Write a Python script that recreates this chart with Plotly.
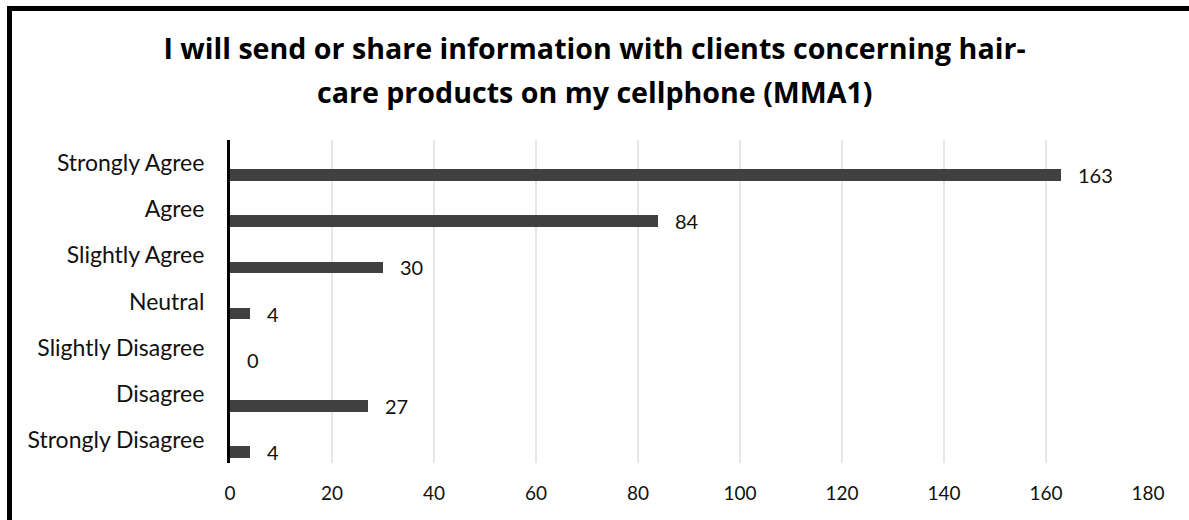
import plotly.graph_objects as go

categories = ["Strongly Agree", "Agree", "Slightly Agree", "Neutral",
              "Slightly Disagree", "Disagree", "Strongly Disagree"]
values = [163, 84, 30, 4, 0, 27, 4]
x_ticks = [0, 20, 40, 60, 80, 100, 120, 140, 160, 180]
title_line1 = "I will send or share information with clients concerning hair-"
title_line2 = "care products on my cellphone (MMA1)"

W, H = 1189, 520
ML, MR, MT, MB = 230, 41, 140, 57
PW, PH = W - ML - MR, H - MT - MB
FONT = "Lato"
TFONT = "Open Sans"

fig = go.Figure()
fig.add_trace(go.Bar(
    x=values, y=categories, orientation="h",
    width=0.25, offset=0.135,
    marker=dict(color="#404040", line=dict(width=0)),
    hoverinfo="x+y",
))

for v, c in zip(values, categories):
    fig.add_annotation(x=v, y=c, text=str(v), showarrow=False,
                       xanchor="left", yanchor="middle", xshift=15, yshift=-12,
                       font=dict(family=FONT, size=20, color="#111111"))


def px_x(p):
    return (p - ML) / PW


def px_y(p):
    return (H - MB - p) / PH


# title (two lines, wide line spacing)
fig.update_layout(title=dict(text="<b>" + title_line1 + "</b>", x=0.5, xanchor="center",
                             xref="container", yref="container",
                             y=1 - 49 / H, yanchor="middle",
                             font=dict(family=TFONT, size=28.6, color="#000000")))
fig.add_annotation(text="<b>" + title_line2 + "</b>", xref="paper", yref="paper",
                   x=px_x(W / 2), y=px_y(91),
                   showarrow=False, xanchor="center", yanchor="middle",
                   font=dict(family=TFONT, size=28.6, color="#000000"))

# chart frame (extends beyond right/bottom edges)
fig.add_shape(type="rect", xref="paper", yref="paper",
              x0=px_x(9.5), y0=px_y(8.5), x1=px_x(W + 40), y1=px_y(H + 40),
              line=dict(color="#000000", width=5), fillcolor="rgba(0,0,0,0)")

fig.update_layout(
    width=W, height=H,
    margin=dict(l=ML, r=MR, t=MT, b=MB),
    paper_bgcolor="white", plot_bgcolor="white",
    showlegend=False,
    bargap=0,
    xaxis=dict(range=[0, 180], tickvals=x_ticks, ticktext=[str(t) for t in x_ticks],
               showgrid=True, gridcolor="#e6e6e6", gridwidth=1.5,
               zeroline=False, showline=False, ticks="",
               ticklabelstandoff=17,
               tickfont=dict(family=FONT, size=19, color="#111111")),
    yaxis=dict(type="category", categoryorder="array", categoryarray=categories,
               range=[6.5, -0.5], showgrid=False, zeroline=False,
               showline=True, linecolor="#000000", linewidth=3, ticks="",
               ticklabelstandoff=18,
               tickfont=dict(family=FONT, size=23, color="#111111")),
)

fig.write_html("out.html", config={"displayModeBar": False},
               post_script="document.body.style.margin='0';")
